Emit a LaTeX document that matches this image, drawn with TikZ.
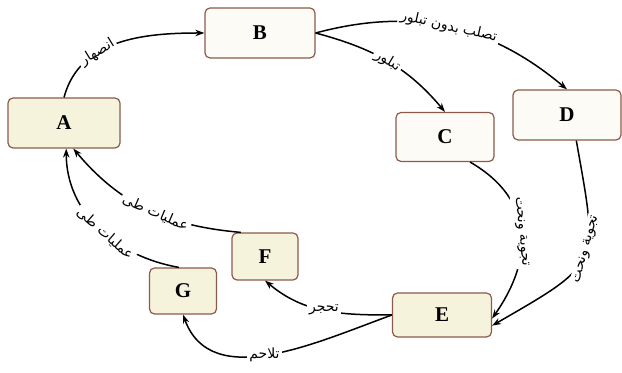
\documentclass[tikz,border=0pt]{standalone}
\usepackage{fontspec}
\setmainfont{Liberation Serif}
\newfontfamily\arabicfont[Script=Arabic]{DejaVu Sans}
\TeXXeTstate=1
\usetikzlibrary{arrows.meta}
\definecolor{boxline}{RGB}{140,90,75}
\definecolor{fillA}{RGB}{245,243,220}
\definecolor{fillB}{RGB}{253,251,245}
\newcommand{\artxt}[1]{\beginR #1\endR}

\begin{document}
\begin{tikzpicture}[x=0.5pt, y=0.5pt,
  box/.style={draw=boxline, line width=0.6pt, rounded corners=2.5pt, fill=#1, font=\fontsize{10.5}{12}\selectfont\bfseries},
  lbl/.style={fill=white, inner sep=1.2pt, font=\arabicfont\fontsize{7}{8}\selectfont},
  arr/.style={-{Stealth[length=4.5pt, width=3.2pt]}, line width=0.75pt}]
  \useasboundingbox (0,0) rectangle (622,373);
  \node[box=fillA, minimum width=56pt, minimum height=25pt] (A) at (64,250) {A};
  \node[box=fillB, minimum width=55pt, minimum height=25pt] (B) at (260,340) {B};
  \node[box=fillB, minimum width=49pt, minimum height=24.5pt] (C) at (445,236) {C};
  \node[box=fillB, minimum width=54pt, minimum height=25pt] (D) at (567,258) {D};
  \node[box=fillA, minimum width=49.5pt, minimum height=22pt] (E) at (442,58) {E};
  \node[box=fillA, minimum width=33pt, minimum height=23.5pt] (F) at (265,116.5) {F};
  \node[box=fillA, minimum width=33.5pt, minimum height=23pt] (G) at (183,82) {G};

  \draw[arr] (A.north) to[out=75, in=180] node[lbl, sloped, pos=0.36] {\artxt{انصهار}} (B.west);
  \draw[arr] (B.east) to[out=15, in=140] node[lbl, sloped] {\artxt{تصلب بدون تبلور}} (D.north);
  \draw[arr] (B.east) to[out=-15, in=130] node[lbl, sloped] {\artxt{تبلور}} (C.north);
  \draw[arr] (C.-45) to[out=-30, in=55, looseness=1.2] node[lbl, sloped] {\artxt{تجوية ونحت}} (E.-4);
  \draw[arr] (D.-70) to[out=-80, in=30, looseness=1.6] node[lbl, sloped, pos=0.45] {\artxt{تجوية ونحت}} (E.-12);
  \draw[arr] (E.west) to[out=180, in=-40] node[lbl] {\artxt{تحجر}} (F.south);
  \draw[arr] (E.west) to[out=200, in=-70] node[lbl, pos=0.52] {\artxt{تلاحم}} (G.south);
  \draw[arr] (F.135) to[out=175, in=-50] node[lbl, sloped, pos=0.45] {\artxt{عمليات طی}} (A.-70);
  \draw[arr] (G.100) to[out=170, in=-90] node[lbl, sloped, pos=0.45] {\artxt{عمليات طی}} (A.-85);
\end{tikzpicture}
\end{document}
